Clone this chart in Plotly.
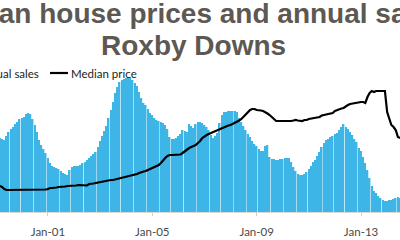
import pandas as pd
import plotly.graph_objects as go

# Monthly observations, Jan 1999 onward
months = pd.date_range("1999-01-01", periods=187, freq="MS")

annual_sales = [
    148, 148, 148, 146, 144, 152, 160, 166, 170, 176, 180, 186,
    188, 190, 196, 198, 196, 186, 174, 160, 144, 134, 126, 118,
    108, 98, 92, 90, 88, 86, 82, 78, 76, 74, 84, 90,
    92, 92, 92, 94, 98, 100, 104, 108, 112, 116, 120, 130,
    142, 152, 162, 172, 188, 204, 220, 238, 250, 260, 264, 266,
    268, 270, 270, 264, 258, 252, 240, 228, 218, 214, 206, 198,
    194, 188, 184, 182, 180, 178, 174, 166, 150, 146, 146, 148,
    152, 156, 164, 162, 160, 176, 172, 168, 176, 180, 180, 178,
    174, 170, 164, 154, 148, 152, 158, 178, 194, 200, 200, 202,
    202, 202, 202, 200, 188, 180, 172, 164, 156, 150, 142, 136,
    132, 126, 122, 122, 132, 134, 110, 106, 106, 104, 104, 106,
    106, 108, 108, 108, 100, 90, 82, 76, 74, 74, 76, 80,
    86, 92, 100, 104, 112, 120, 130, 138, 144, 146, 150, 152,
    156, 158, 164, 170, 176, 170, 166, 160, 154, 146, 140, 128,
    122, 110, 98, 84, 68, 52, 42, 38, 32, 28, 24, 22,
    22, 24, 24, 26, 28, 30, 28,
]

median_price = [
    104, 104, 104, 100, 92, 88, 88, 88, 88, 88, 88, 88,
    88, 88, 88, 88, 88, 88, 88, 88, 88, 88, 88, 90,
    92, 96, 96, 96, 98, 100, 100, 100, 102, 104, 104, 104,
    106, 106, 108, 108, 108, 108, 106, 112, 112, 114, 116, 118,
    120, 122, 124, 124, 126, 128, 128, 130, 132, 134, 136, 138,
    140, 142, 144, 146, 148, 152, 156, 160, 162, 164, 168, 172,
    176, 180, 184, 188, 196, 208, 216, 224, 228, 228, 228, 228,
    228, 230, 236, 244, 252, 256, 260, 264, 268, 276, 284, 296,
    304, 308, 312, 316, 320, 324, 328, 330, 334, 338, 342, 346,
    348, 352, 356, 360, 366, 372, 380, 392, 400, 408, 412, 412,
    408, 408, 406, 404, 400, 394, 388, 380, 372, 364, 364, 364,
    364, 364, 364, 362, 364, 366, 368, 366, 364, 364, 368, 368,
    372, 374, 376, 378, 380, 380, 386, 388, 390, 392, 392, 396,
    404, 408, 412, 414, 416, 424, 428, 432, 434, 436, 436, 438,
    440, 440, 436, 460, 476, 484, 480, 484, 484, 484, 484, 484,
    400, 368, 348, 340, 328, 300, 296,
]

title_line1 = "Median house prices and annual sales"
title_line2 = "Roxby Downs"
legend_sales = "Annual sales"
legend_price = "Median price"

W, H = 400, 240
PLOT_H = 212  # plot area height in px (t=0, b=28)


def py(p):
    """pixel y (from top) -> paper y"""
    return (PLOT_H - p) / PLOT_H


def px(p):
    return p / W


fig = go.Figure()
fig.add_trace(go.Bar(
    x=months, y=annual_sales, name=legend_sales,
    marker=dict(color="#3db5e6", line=dict(width=0)),
    yaxis="y",
))
fig.add_trace(go.Scatter(
    x=months, y=median_price, name=legend_price, mode="lines",
    line=dict(color="#000000", width=2.2),
    yaxis="y2",
))

title_color = "#5e5853"
fig.add_annotation(text=title_line1, xref="paper", yref="paper",
                   x=px(190), y=py(13), xanchor="center", yanchor="middle",
                   showarrow=False,
                   font=dict(family="Liberation Sans", size=28, color=title_color, weight="bold"))
fig.add_annotation(text=title_line2, xref="paper", yref="paper",
                   x=px(193), y=py(45), xanchor="center", yanchor="middle",
                   showarrow=False,
                   font=dict(family="Liberation Sans", size=28, color=title_color, weight="bold"))

legend_font = dict(family="Lato", size=11.5, color="#222222")
fig.add_annotation(text=legend_sales, xref="paper", yref="paper",
                   x=px(41), y=py(73), xanchor="right", yanchor="middle",
                   showarrow=False, font=legend_font)
fig.add_annotation(text=legend_price, xref="paper", yref="paper",
                   x=px(69), y=py(73), xanchor="left", yanchor="middle",
                   showarrow=False, font=legend_font)
fig.add_shape(type="rect", xref="paper", yref="paper",
              x0=px(-40), x1=px(-32), y0=py(77), y1=py(69),
              fillcolor="#3db5e6", line=dict(width=0))
fig.add_shape(type="line", xref="paper", yref="paper",
              x0=px(50), x1=px(68), y0=py(73), y1=py(73),
              line=dict(color="#000000", width=2.2))

fig.update_layout(
    width=W, height=H,
    margin=dict(l=0, r=0, t=0, b=H - PLOT_H, autoexpand=False),
    paper_bgcolor="white", plot_bgcolor="white",
    showlegend=False,
    bargap=0.22,
    xaxis=dict(
        type="date",
        range=["1999-03-02", "2014-06-30"],
        tick0="2001-01-01", dtick="M48", tickformat="%b-%y",
        ticks="outside", ticklen=3, tickcolor="#d0d0d0",
        ticklabelstandoff=6,
        showline=True, linecolor="#d9d9d9", linewidth=1,
        showgrid=False, zeroline=False,
        tickfont=dict(family="Lato", size=11.5, color="#4a4a4a"),
    ),
    yaxis=dict(range=[0, 2 * PLOT_H], visible=False, showgrid=False, fixedrange=True),
    yaxis2=dict(range=[0, 4 * PLOT_H], overlaying="y", visible=False, showgrid=False),
)

fig.write_html("out.html")
